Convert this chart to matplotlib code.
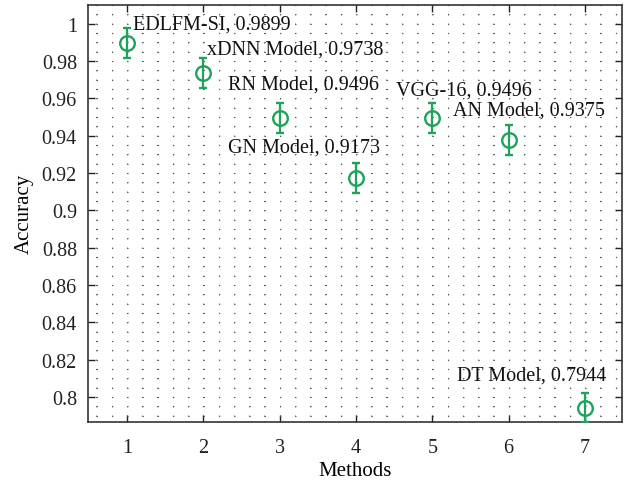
import matplotlib
matplotlib.use("Agg")
import matplotlib.pyplot as plt
from matplotlib.ticker import MultipleLocator
import numpy as np

methods = [1, 2, 3, 4, 5, 6, 7]
names = ["EDLFM-SI", "xDNN Model", "RN Model", "GN Model", "VGG-16", "AN Model", "DT Model"]
accuracy = [0.9899, 0.9738, 0.9496, 0.9173, 0.9496, 0.9375, 0.7944]
errors = [0.008, 0.008, 0.008, 0.008, 0.008, 0.008, 0.008]
label_x = [1.08, 2.05, 2.32, 2.33, 4.52, 5.27, 5.32]
label_y = [1.0, 0.9864, 0.9677, 0.9342, 0.9646, 0.9539, 0.8117]
yticks = [0.80, 0.82, 0.84, 0.86, 0.88, 0.90, 0.92, 0.94, 0.96, 0.98, 1.00]

plt.rcParams['font.family'] = ['Liberation Serif', 'DejaVu Serif']

fig = plt.figure(figsize=(6.29, 4.85), dpi=100)
ax = fig.add_axes([88/629, 1-422.5/485, (622-88)/629, (422.5-5.5)/485])

green = '#1DA35A'
ax.errorbar(methods, accuracy, yerr=errors, fmt='o', mfc='none', mec=green,
            ecolor=green, color=green, ms=10.5, mew=1.7, elinewidth=1.6,
            capsize=2.6, capthick=1.6, zorder=3)

for n, a, lx, ly in zip(names, accuracy, label_x, label_y):
    ax.text(lx, ly, f"{n}, {a:.4f}", fontsize=14.5, ha='left', va='center', color='#111111')

ax.set_xlim(0.49, 7.485)
ax.set_ylim(0.7869, 1.0103)
ax.set_xticks(methods)
ax.set_yticks(yticks)
ax.set_yticklabels([f"{v:g}" for v in yticks])
ax.xaxis.set_minor_locator(MultipleLocator(0.2))
ax.yaxis.set_minor_locator(MultipleLocator(0.005))
ax.tick_params(which='major', direction='in', length=5, width=1, top=True, right=True,
               labelsize=14.5, colors='#222222', pad=8)
ax.tick_params(axis='x', which='major', pad=12)
ax.tick_params(which='minor', length=0, top=True, right=True)
lw = 0.8
ax.yaxis.grid(True, which='both', linestyle=(6.2, (1, 12.74)), linewidth=lw, color='#555555')
ax.xaxis.grid(True, which='both', linestyle=(3.2, (1, 7.4)), linewidth=lw, color='#555555')
for s in ax.spines.values():
    s.set_linewidth(1.2)
    s.set_color('#333333')

ax.set_xlabel("Methods", fontsize=15, labelpad=3)
ax.set_ylabel("Accuracy", fontsize=15, labelpad=6)

fig.savefig("out.png", dpi=100)
